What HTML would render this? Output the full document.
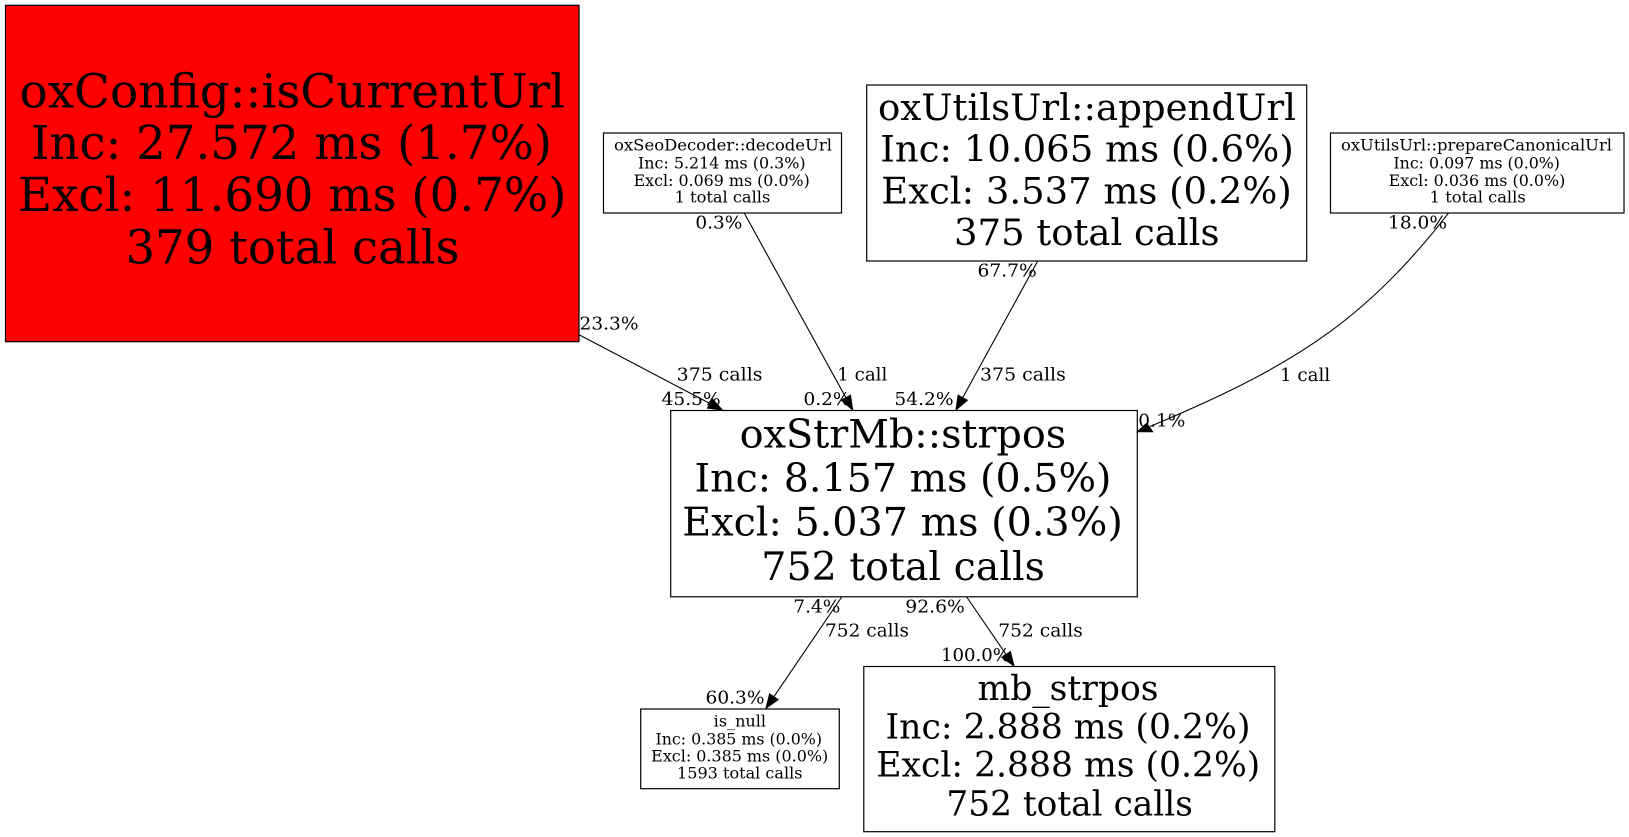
<!DOCTYPE html>
<html><head><meta charset="utf-8"><style>
html,body{margin:0;padding:0;background:#fff}
svg{display:block}
text{font-family:"DejaVu Serif",serif;fill:#000;font-variant-ligatures:common-ligatures}
.a{font-size:46.6px}.b{font-size:36.9px}.c{font-size:39.5px}.d{font-size:34.6px}.s{font-size:15.5px}.e{font-size:17.5px}
rect{stroke:#000;stroke-width:1.2}
path{fill:none;stroke:#000;stroke-width:1.1}
polygon{fill:#000;stroke:#000;stroke-width:1}
</style></head><body>
<svg width="1629" height="837" viewBox="0 0 1629 837" xmlns="http://www.w3.org/2000/svg">
<rect x="0" y="0" width="1629" height="837" style="fill:#fff;stroke:none"/>
<rect x="5.5" y="5.3" width="573.5" height="336.4" fill="#ff0000"/>
<rect x="603.5" y="133" width="238" height="80" fill="#fff"/>
<rect x="866.7" y="85" width="440" height="176" fill="#fff"/>
<rect x="1330.5" y="133" width="293.5" height="80" fill="#fff"/>
<rect x="670.7" y="410.5" width="466.6" height="186.3" fill="#fff"/>
<rect x="640.7" y="709" width="198.6" height="79.7" fill="#fff"/>
<rect x="863.8" y="666.5" width="411" height="165.2" fill="#fff"/>

<path d="M579.5,335 L709.9,403.5"/><polygon points="722.3,410 707.5,408.1 712.3,398.9"/>
<path d="M744.2,213 L845.9,397.7"/><polygon points="852.7,410 841.3,400.2 850.5,395.2"/>
<path d="M1037.7,261 L962.7,397.7"/><polygon points="956,410 958.1,395.2 967.3,400.2"/>
<path d="M1448.3,213.3 C1414.6,257 1374.6,299.2 1330,331.7 C1275,371.8 1212.6,400 1150,426.5"/><polygon points="1137.3,431.7 1146.7,423.3 1152.7,431.7"/>
<path d="M841.7,597 L773.9,696.7"/><polygon points="766,708.3 769.6,693.8 778.2,699.6"/>
<path d="M966.7,597 L1006.1,654.5"/><polygon points="1014,666 1001.8,657.4 1010.4,651.6"/>

<text class="a" x="19.5" y="107.7" textLength="545.5" lengthAdjust="spacingAndGlyphs">oxConfig::isCurrentUrl</text>
<text class="a" x="31" y="159" textLength="521" lengthAdjust="spacingAndGlyphs">Inc: 27.572 ms (1.7%)</text>
<text class="a" x="18" y="211" textLength="548.5" lengthAdjust="spacingAndGlyphs">Excl: 11.690 ms (0.7%)</text>
<text class="a" x="125.5" y="263.3" textLength="334" lengthAdjust="spacingAndGlyphs">379 total calls</text>

<text class="s" x="614" y="150.7" textLength="218" lengthAdjust="spacingAndGlyphs">oxSeoDecoder::decodeUrl</text>
<text class="s" x="638" y="168.7" textLength="167.6" lengthAdjust="spacingAndGlyphs">Inc: 5.214 ms (0.3%)</text>
<text class="s" x="633.6" y="186" textLength="176.2" lengthAdjust="spacingAndGlyphs">Excl: 0.069 ms (0.0%)</text>
<text class="s" x="674.6" y="202.7" textLength="95.7" lengthAdjust="spacingAndGlyphs">1 total calls</text>

<text class="b" x="878" y="120" textLength="418" lengthAdjust="spacingAndGlyphs">oxUtilsUrl::appendUrl</text>
<text class="b" x="880.3" y="161.7" textLength="413.5" lengthAdjust="spacingAndGlyphs">Inc: 10.065 ms (0.6%)</text>
<text class="b" x="881.3" y="203.3" textLength="410.5" lengthAdjust="spacingAndGlyphs">Excl: 3.537 ms (0.2%)</text>
<text class="b" x="954" y="245" textLength="265.5" lengthAdjust="spacingAndGlyphs">375 total calls</text>

<text class="s" x="1341" y="150.7" textLength="271" lengthAdjust="spacingAndGlyphs">oxUtilsUrl::prepareCanonicalUrl</text>
<text class="s" x="1393.4" y="168.7" textLength="166.6" lengthAdjust="spacingAndGlyphs">Inc: 0.097 ms (0.0%)</text>
<text class="s" x="1388.7" y="186" textLength="176.6" lengthAdjust="spacingAndGlyphs">Excl: 0.036 ms (0.0%)</text>
<text class="s" x="1429.7" y="202.7" textLength="96" lengthAdjust="spacingAndGlyphs">1 total calls</text>

<text class="c" x="739.7" y="447.3" textLength="326.5" lengthAdjust="spacingAndGlyphs">oxStrMb::strpos</text>
<text class="c" x="694.5" y="491.7" textLength="417" lengthAdjust="spacingAndGlyphs">Inc: 8.157 ms (0.5%)</text>
<text class="c" x="682.3" y="535.7" textLength="440.5" lengthAdjust="spacingAndGlyphs">Excl: 5.037 ms (0.3%)</text>
<text class="c" x="761.3" y="580" textLength="283.6" lengthAdjust="spacingAndGlyphs">752 total calls</text>

<text class="s" x="713.7" y="726.7" textLength="52.3" lengthAdjust="spacingAndGlyphs">is_null</text>
<text class="s" x="655.5" y="744.3" textLength="166.5" lengthAdjust="spacingAndGlyphs">Inc: 0.385 ms (0.0%)</text>
<text class="s" x="651.2" y="761.7" textLength="177" lengthAdjust="spacingAndGlyphs">Excl: 0.385 ms (0.0%)</text>
<text class="s" x="677" y="778.3" textLength="125.5" lengthAdjust="spacingAndGlyphs">1593 total calls</text>

<text class="d" x="977.5" y="700" textLength="181" lengthAdjust="spacingAndGlyphs">mb_strpos</text>
<text class="d" x="885.5" y="738.3" textLength="365" lengthAdjust="spacingAndGlyphs">Inc: 2.888 ms (0.2%)</text>
<text class="d" x="876.3" y="776.7" textLength="384" lengthAdjust="spacingAndGlyphs">Excl: 2.888 ms (0.2%)</text>
<text class="d" x="946.4" y="815.7" textLength="246.5" lengthAdjust="spacingAndGlyphs">752 total calls</text>

<text class="e" x="579.5" y="329.3" textLength="59" lengthAdjust="spacingAndGlyphs">23.3%</text>
<text class="e" x="676.7" y="380.7" textLength="85.8" lengthAdjust="spacingAndGlyphs">375 calls</text>
<text class="e" x="661.6" y="405" textLength="59" lengthAdjust="spacingAndGlyphs">45.5%</text>
<text class="e" x="695.4" y="228.3" textLength="47" lengthAdjust="spacingAndGlyphs">0.3%</text>
<text class="e" x="837.3" y="380.7" textLength="50" lengthAdjust="spacingAndGlyphs">1 call</text>
<text class="e" x="803.5" y="405" textLength="47" lengthAdjust="spacingAndGlyphs">0.2%</text>
<text class="e" x="894.4" y="405" textLength="59.2" lengthAdjust="spacingAndGlyphs">54.2%</text>
<text class="e" x="980" y="380.7" textLength="85.8" lengthAdjust="spacingAndGlyphs">375 calls</text>
<text class="e" x="977.5" y="276.7" textLength="59.2" lengthAdjust="spacingAndGlyphs">67.7%</text>
<text class="e" x="1388" y="228.3" textLength="59" lengthAdjust="spacingAndGlyphs">18.0%</text>
<text class="e" x="1280" y="381" textLength="50.2" lengthAdjust="spacingAndGlyphs">1 call</text>
<text class="e" x="1138.3" y="426.7" textLength="47" lengthAdjust="spacingAndGlyphs">0.1%</text>
<text class="e" x="793.3" y="612.3" textLength="47" lengthAdjust="spacingAndGlyphs">7.4%</text>
<text class="e" x="905.3" y="612.3" textLength="59.5" lengthAdjust="spacingAndGlyphs">92.6%</text>
<text class="e" x="825" y="636.7" textLength="84" lengthAdjust="spacingAndGlyphs">752 calls</text>
<text class="e" x="998.3" y="636.7" textLength="84.5" lengthAdjust="spacingAndGlyphs">752 calls</text>
<text class="e" x="941" y="661" textLength="69" lengthAdjust="spacingAndGlyphs">100.0%</text>
<text class="e" x="705.5" y="703.3" textLength="59" lengthAdjust="spacingAndGlyphs">60.3%</text>
</svg>
</body></html>
